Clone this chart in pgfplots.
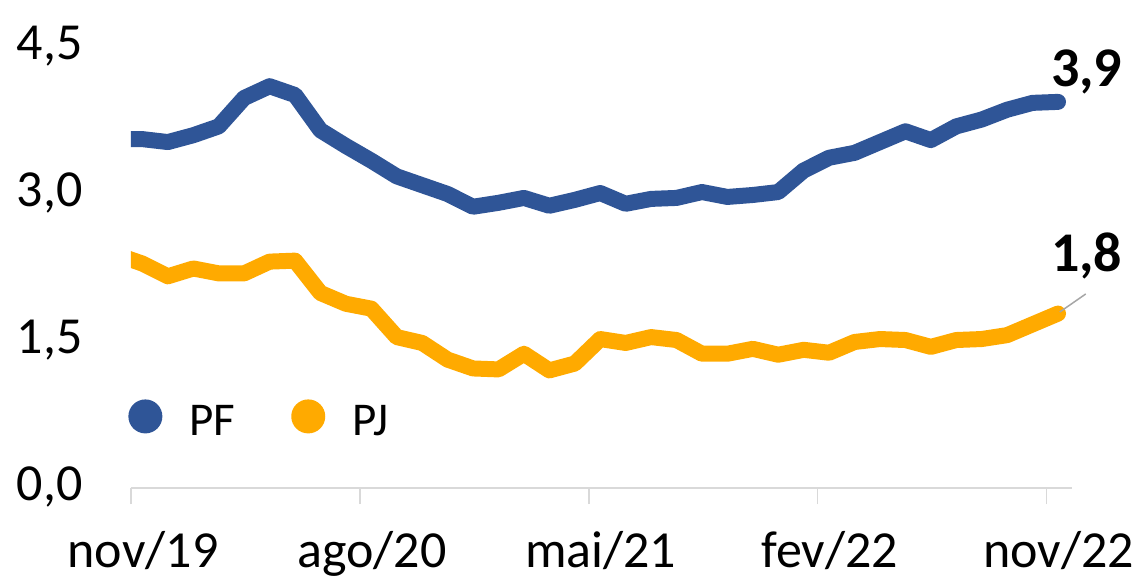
\documentclass[border=0pt]{standalone}
\usepackage{fontspec}
\setmainfont{Carlito}
\usepackage{pgfplots}
\pgfplotsset{compat=1.18}
\usepackage{pgfplotstable}
\definecolor{pfblue}{RGB}{47,85,151}
\definecolor{pjorange}{RGB}{255,170,0}
\definecolor{axisgray}{RGB}{217,217,217}

% months since nov/19 (points sit mid-month); first row is clipped at the axis start
\pgfplotstableread{
x      pf    pj
-0.55  3.56  2.38
0.45   3.56  2.29
1.45   3.53  2.16
2.45   3.60  2.24
3.45   3.69  2.19
4.45   3.98  2.19
5.45   4.10  2.31
6.45   4.01  2.32
7.45   3.65  1.99
8.45   3.49  1.88
9.45   3.34  1.83
10.45  3.18  1.54
11.45  3.09  1.48
12.45  3.00  1.31
13.45  2.87  1.22
14.45  2.91  1.21
15.45  2.96  1.37
16.45  2.88  1.20
17.45  2.94  1.27
18.45  3.01  1.52
19.45  2.90  1.48
20.45  2.95  1.54
21.45  2.96  1.51
22.45  3.02  1.37
23.45  2.97  1.37
24.45  2.99  1.42
25.45  3.02  1.36
26.45  3.24  1.41
27.45  3.37  1.38
28.45  3.42  1.49
29.45  3.53  1.52
30.45  3.64  1.51
31.45  3.55  1.44
32.45  3.69  1.51
33.45  3.76  1.52
34.45  3.86  1.56
35.45  3.93  1.67
36.45  3.94  1.78
}\inad

\begin{document}
\begin{tikzpicture}
\begin{axis}[
    scale only axis, width=470.5pt, height=220.5pt,
    xmin=0, xmax=37, ymin=0, ymax=4.5,
    clip mode=individual,
    axis lines=left, axis line style={-},
    x axis line style={draw=axisgray, line width=0.75pt},
    y axis line style={draw=none},
    tick align=outside, major tick length=8pt,
    xtick={0,9,18,27,36},
    xticklabels={nov/19,ago/20,mai/21,fev/22,nov/22},
    xtick style={draw=axisgray, line width=0.75pt},
    ytick={0,1.5,3,4.5},
    yticklabels={{0,0},{1,5},{3,0},{4,5}},
    ytick style={draw=none},
    typeset ticklabels with strut,
    ticklabel style={font=\fontsize{26}{30}\selectfont, inner sep=0pt},
    xticklabel style={xshift=6pt},
    xticklabel shift=10.5pt,
    yticklabel shift=16pt,
    legend columns=2,
    legend style={draw=none, fill=none, inner sep=0pt, nodes={inner sep=0pt},
        at={(-0.0032,0.156)}, anchor=west,
        font=\fontsize{23.5}{28}\selectfont,
        /tikz/every odd column/.append style={column sep=13.5pt},
        /tikz/every even column/.append style={column sep=28pt}},
    legend image code/.code={\fill[#1, draw=none] (8.5pt,3pt) circle[radius=8.5pt];},
]
\addplot[pfblue, line width=8pt, line join=round, line cap=round] table[x=x, y=pf] {\inad};
\addlegendentry{PF}
\addplot[pjorange, line width=8pt, line join=round, line cap=round] table[x=x, y=pj] {\inad};
\addlegendentry{PJ}

\draw[gray!70, line width=0.75pt] (axis cs:36.52,1.796) -- (axis cs:37.54,1.98);
\node[anchor=base, font=\fontsize{28}{32}\selectfont\bfseries] at (axis cs:37.58,4.095) {3,9};
\node[anchor=base, font=\fontsize{28}{32}\selectfont\bfseries] at (axis cs:37.58,2.207) {1,8};

\coordinate (bbll) at (rel axis cs:-0.1392,-0.1995);
\coordinate (bbur) at (rel axis cs:1.0712,1.1066);
\end{axis}
\pgfresetboundingbox
\useasboundingbox (bbll) rectangle (bbur);
\end{tikzpicture}
\end{document}
